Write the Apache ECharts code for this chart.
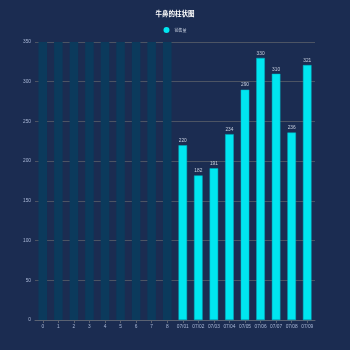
<!DOCTYPE html>
<html>
<head>
<meta charset="utf-8">
<script src="https://cdn.jsdelivr.net/npm/echarts@6/dist/echarts.min.js"></script>
<style>
  html, body { margin: 0; padding: 0; background: #1b2c51; }
  #chart { width: 350px; height: 350px; }
</style>
</head>
<body>
<div id="chart"></div>
<script>
// Category labels along the x axis
const categories = ['0', '1', '2', '3', '4', '5', '6', '7', '8',
  '07/01', '07/02', '07/03', '07/04', '07/05', '07/06', '07/07', '07/08', '07/09'];
// Background column heights (first nine slots)
const shadowValues = [350, 350, 350, 350, 350, 350, 350, 350, 350];
// Sales volume per day
const salesValues = [null, null, null, null, null, null, null, null, null,
  220, 182, 191, 234, 290, 330, 310, 236, 321];
// Value-axis ticks
const yTicks = { min: 0, max: 350, interval: 50 };

const chart = echarts.init(document.getElementById('chart'));
chart.setOption({
  backgroundColor: '#1b2c51',
  title: {
    text: '牛鼻的柱状图',
    left: 'center',
    top: 5,
    textStyle: { color: '#ffffff', fontSize: 6.5, fontWeight: 'bold', fontFamily: 'Noto Sans CJK SC' }
  },
  legend: {
    top: 22,
    left: 'center',
    icon: 'circle',
    itemWidth: 6,
    itemHeight: 6,
    itemGap: 4,
    data: ['销售量'],
    itemStyle: { borderWidth: 0 },
    textStyle: { color: '#c8d0e0', fontSize: 4, fontFamily: 'Noto Sans CJK SC' }
  },
  grid: { left: 35, right: 35, top: 42, bottom: 30, containLabel: false },
  xAxis: {
    type: 'category',
    data: categories,
    axisLine: { lineStyle: { color: '#5a6272' } },
    axisTick: { show: true, alignWithLabel: true, lineStyle: { color: '#5a6272' }, length: 3 },
    axisLabel: { color: '#a9b7d6', fontSize: 4.8, margin: 4, interval: 0 }
  },
  yAxis: {
    type: 'value',
    min: yTicks.min,
    max: yTicks.max,
    interval: yTicks.interval,
    axisLine: { show: false },
    axisTick: { show: false },
    axisLabel: { color: '#a9b7d6', fontSize: 4.8, margin: 4 },
    splitLine: { lineStyle: { color: '#4c5464', width: 1 } }
  },
  series: [
    {
      name: 'shadow',
      type: 'bar',
      data: shadowValues,
      barWidth: '55%',
      barGap: '-100%',
      itemStyle: { color: '#0b3a5c' },
      silent: true
    },
    {
      name: '销售量',
      type: 'bar',
      data: salesValues,
      barWidth: '55%',
      itemStyle: { color: '#00e6f0', borderColor: '#00b4c6', borderWidth: 0.5 },
      label: {
        show: true,
        position: 'top',
        distance: 2,
        color: '#c8d0e0',
        fontSize: 4.8
      }
    }
  ]
});
</script>
</body>
</html>
